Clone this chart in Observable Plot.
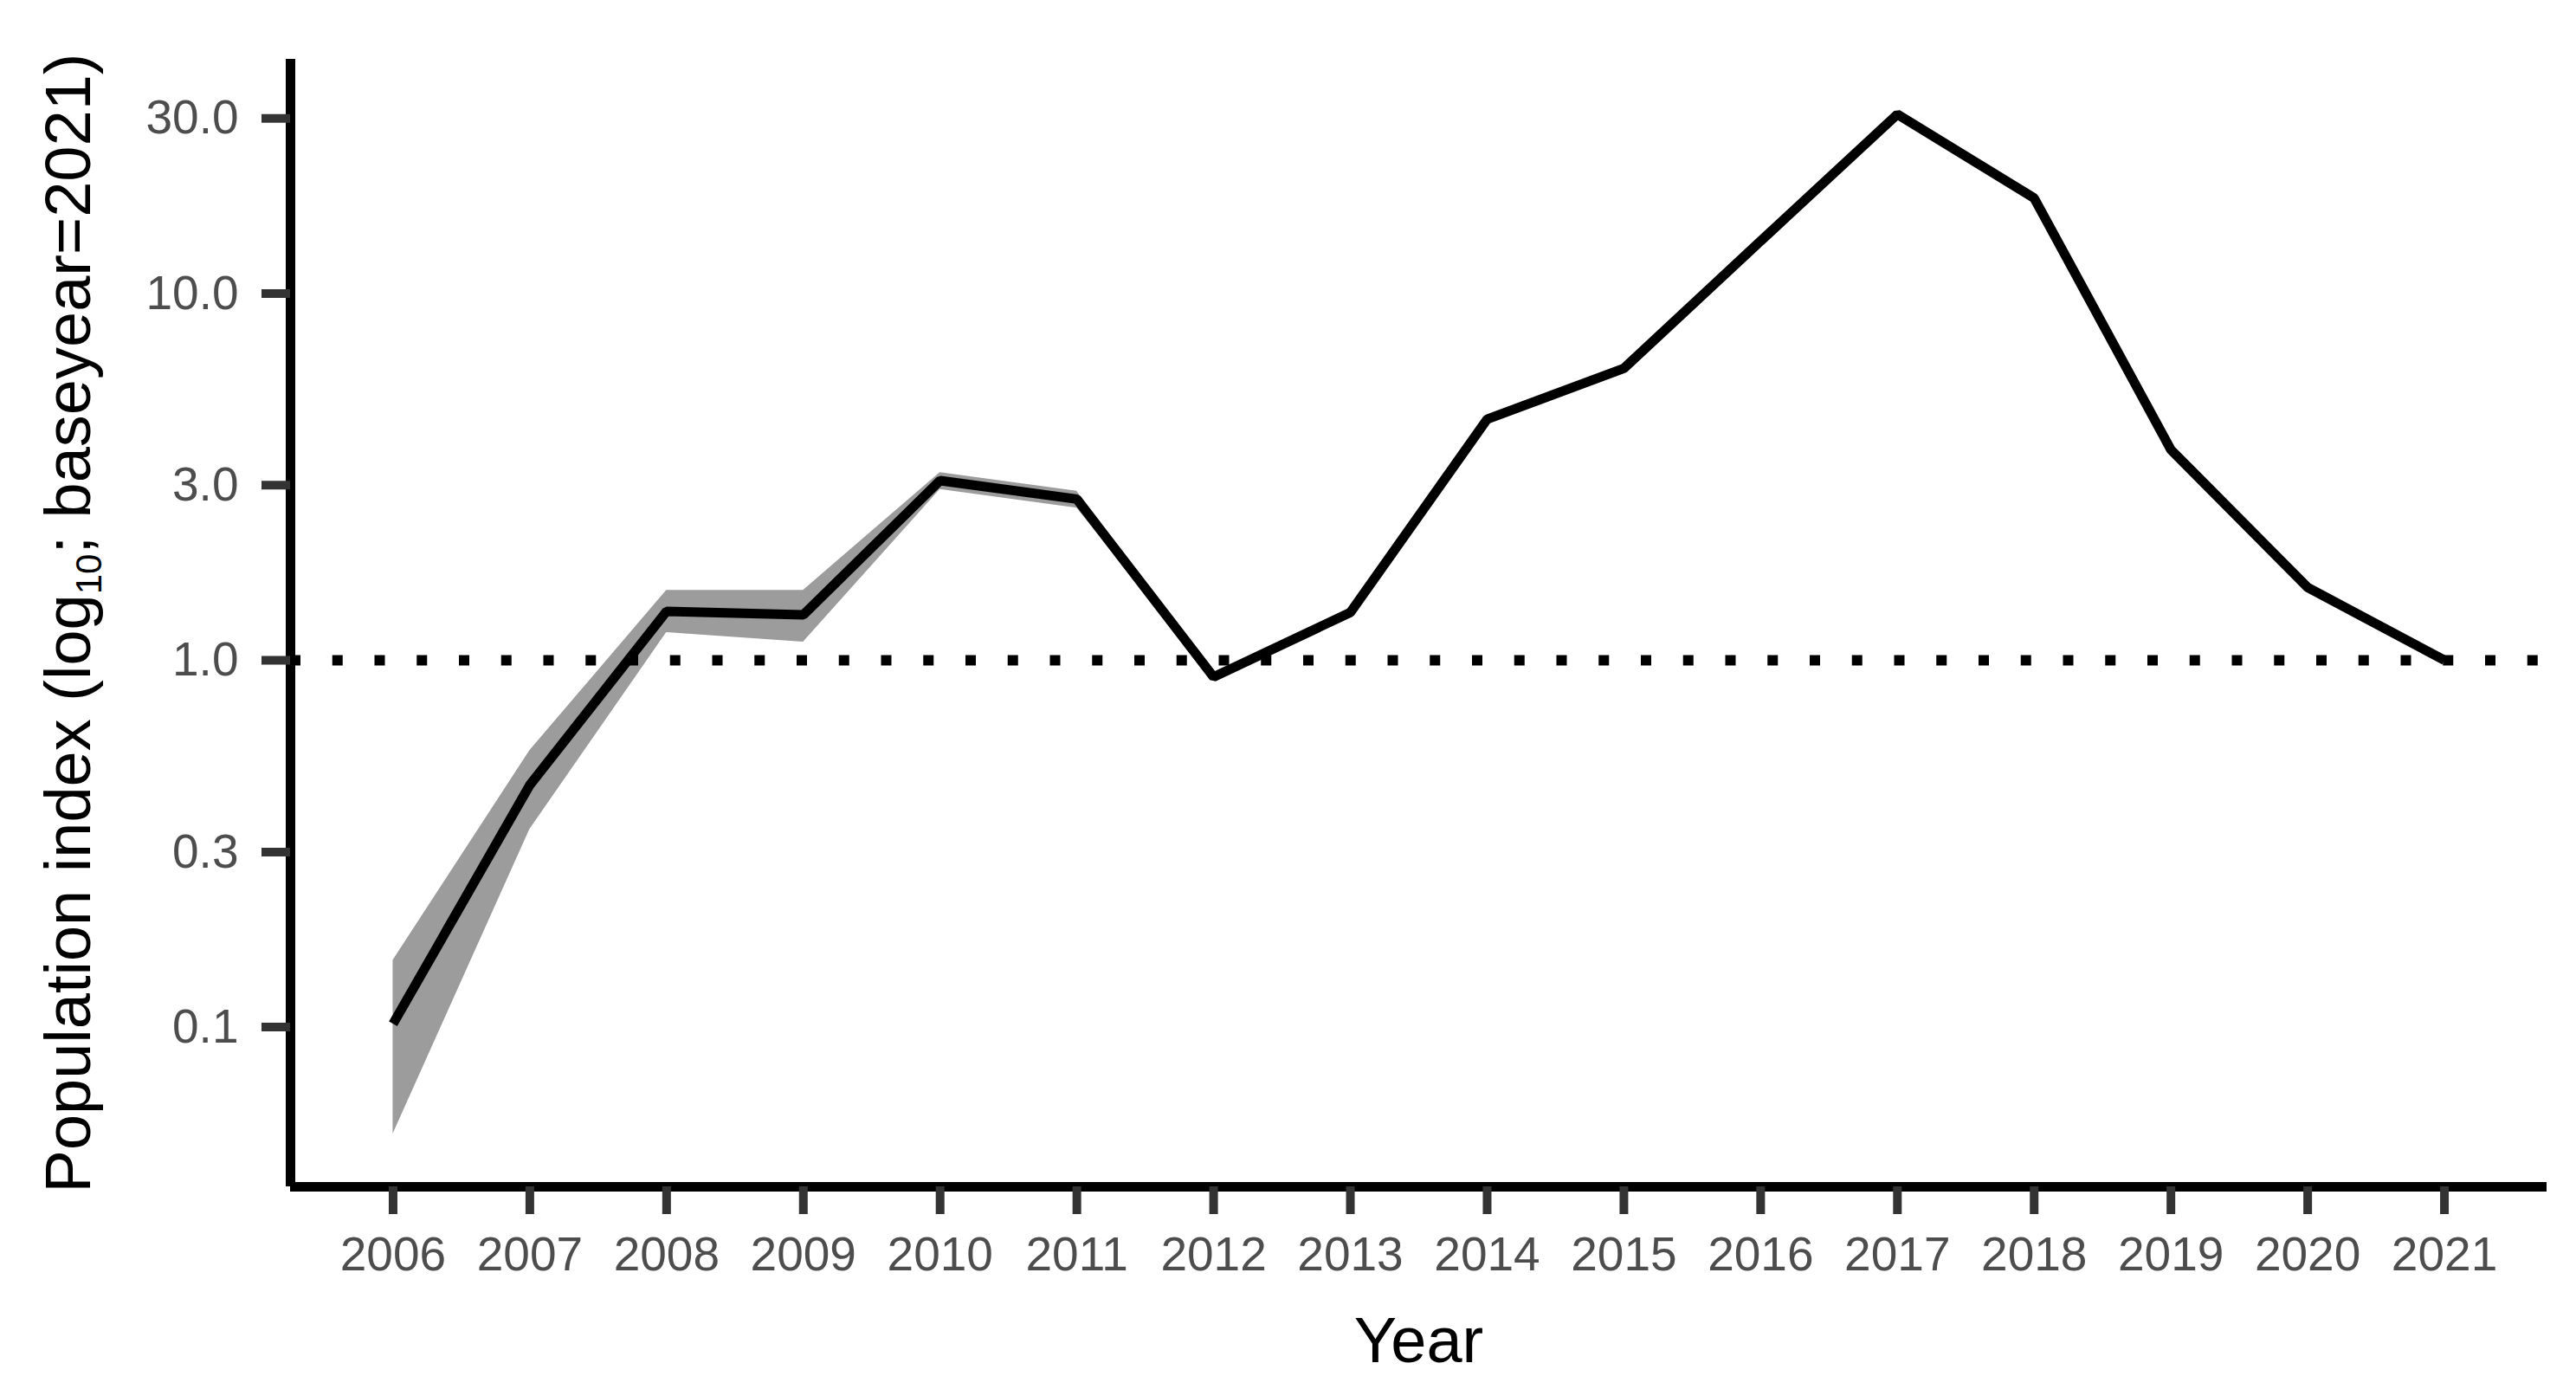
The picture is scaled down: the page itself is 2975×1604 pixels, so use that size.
<!DOCTYPE html>
<html>
<head>
<meta charset="utf-8">
<script src="https://cdn.jsdelivr.net/npm/d3@7"></script>
<script src="https://cdn.jsdelivr.net/npm/@observablehq/plot@0.6"></script>
<style>
  html, body { margin: 0; padding: 0; background: #ffffff; }
  #chart svg { display: block; }
</style>
</head>
<body>
<div id="chart"></div>
<script>
// ---- data ----
const years = [2006, 2007, 2008, 2009, 2010, 2011, 2012, 2013, 2014, 2015, 2016, 2017, 2018, 2019, 2020, 2021];
const index = [0.102, 0.457, 1.36, 1.33, 3.09, 2.75, 0.90, 1.35, 4.54, 6.25, 13.9, 30.8, 18.2, 3.75, 1.58, 1.0];
const lower = [0.0511, 0.346, 1.19, 1.12, 2.92, 2.60, 0.89, 1.34, 4.50, 6.20, 13.8, 30.6, 18.1, 3.73, 1.57, 1.0];
const upper = [0.152, 0.567, 1.55, 1.55, 3.25, 2.89, 0.91, 1.36, 4.58, 6.30, 14.0, 31.0, 18.3, 3.77, 1.59, 1.0];
const yTicks = [0.1, 0.3, 1, 3, 10, 30];
const baseline = [1];
const xDomain = [2005.25, 2021.75];
const yDomain = [0.03667, 43.5];
const xTitle = "Year";
const yTitle = "Population index (log10; baseyear=2021)";

const data = years.map((year, i) => ({year, index: index[i], lower: lower[i], upper: upper[i]}));

const W = 2975, H = 1604;
const mL = 335, mR = 34, mT = 68, mB = 234;

const chart = Plot.plot({
  width: W,
  height: H,
  marginLeft: mL,
  marginRight: mR,
  marginTop: mT,
  marginBottom: mB,
  style: {fontFamily: "'Liberation Sans', Arial, sans-serif", background: "#ffffff", overflow: "visible"},
  x: {domain: xDomain},
  y: {type: "log", domain: yDomain},
  marks: [
    Plot.areaY(data, {x: "year", y1: "lower", y2: "upper", fill: "#9C9C9C", curve: "linear"}),
    Plot.ruleY(baseline, {stroke: "#000000", strokeWidth: 12, strokeDasharray: "12,36.75"}),
    Plot.lineY(data, {x: "year", y: "index", stroke: "#000000", strokeWidth: 11, strokeLinejoin: "miter", strokeLinecap: "butt", curve: "linear"}),
    Plot.ruleX([xDomain[0]], {stroke: "#000000", strokeWidth: 11}),
    Plot.ruleY([yDomain[0]], {stroke: "#000000", strokeWidth: 11}),
    Plot.axisX({
      ticks: years, tickFormat: d => String(d), tickSize: 32, tickPadding: 25,
      fontSize: 55, color: "#4D4D4D", stroke: "#333333", strokeWidth: 10, label: null
    }),
    Plot.axisY({
      ticks: yTicks, tickFormat: d3.format(".1f"), tickSize: 33, tickPadding: 27,
      fontSize: 55, color: "#4D4D4D", stroke: "#333333", strokeWidth: 10, label: null
    }),
    Plot.text([xTitle], {frameAnchor: "bottom", dy: 202, lineAnchor: "bottom", textAnchor: "middle", fontSize: 74, fill: "#000000", text: d => d}),
    Plot.text([yTitle], {frameAnchor: "left", dx: -284, rotate: -90, lineAnchor: "top", textAnchor: "middle", fontSize: 74, fill: "#000000", text: d => d})
  ]
});

document.getElementById("chart").appendChild(chart);

// subscript "10" in the y-axis title
d3.select(chart).selectAll("text").each(function() {
  if (this.textContent === yTitle) {
    const t = d3.select(this);
    t.text(null);
    t.append("tspan").text("Population index (log");
    t.append("tspan").attr("font-size", 42).attr("dy", 13).text("10");
    t.append("tspan").attr("dy", -13).text("; baseyear=2021)");
  }
});
</script>
</body>
</html>
